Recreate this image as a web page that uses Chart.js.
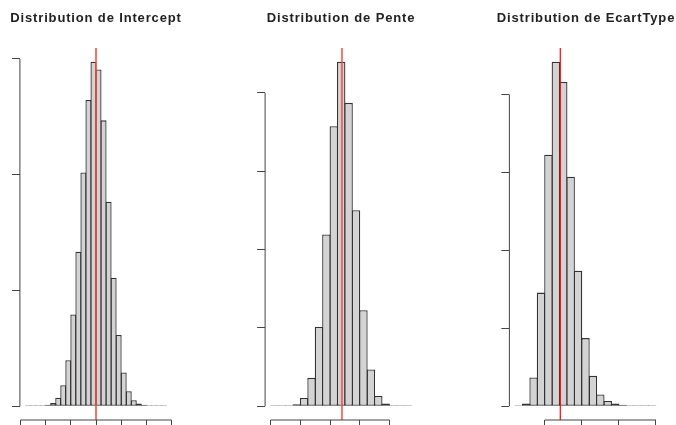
<!DOCTYPE html>
<html>
<head>
<meta charset="utf-8">
<script src="https://cdn.jsdelivr.net/npm/chart.js@4"></script>
<style>
html, body { margin: 0; padding: 0; background: #ffffff; }
#wrap { position: relative; width: 676px; height: 425px; overflow: hidden; background: #ffffff; }
#wrap canvas { position: absolute; top: 0; }
</style>
</head>
<body>
<div id="wrap">
  <canvas id="c1" width="200" height="440"></canvas>
  <canvas id="c2" width="200" height="440"></canvas>
  <canvas id="c3" width="200" height="440"></canvas>
</div>
<script>
// ---------- data ----------
const titles = ['Distribution de Intercept', 'Distribution de Pente', 'Distribution de EcartType'];

// bin centres (histogram categories)
const interceptBins = [-2.7, -2.5, -2.3, -2.1, -1.9, -1.7, -1.5, -1.3, -1.1, -0.9, -0.7, -0.5, -0.3, -0.1,
                       0.1, 0.3, 0.5, 0.7, 0.9, 1.1, 1.3, 1.5, 1.7, 1.9, 2.1, 2.3, 2.5, 2.7];
const interceptCounts = [1, 1, 1, 3, 6, 14, 37, 91, 199, 396, 667, 1010, 1323, 1488,
                         1455, 1235, 883, 555, 308, 146, 65, 26, 12, 6, 3, 1, 1, 1];

const penteBins = [0.225, 0.275, 0.325, 0.375, 0.425, 0.475, 0.525, 0.575, 0.625, 0.675,
                   0.725, 0.775, 0.825, 0.875, 0.925, 0.975, 1.025, 1.075, 1.125];
const penteCounts = [1, 1, 6, 13, 53, 181, 506, 1096, 1787, 2198,
                     1936, 1251, 613, 234, 66, 17, 4, 1, 1];

const ecartTypeBins = [0.15, 0.25, 0.35, 0.45, 0.55, 0.65, 0.75, 0.85, 0.95, 1.05,
                       1.15, 1.25, 1.35, 1.45, 1.55, 1.65, 1.75, 1.85, 1.95];
const ecartTypeCounts = [4, 17, 184, 729, 1614, 2210, 2081, 1472, 870, 437,
                         195, 75, 34, 17, 9, 4, 3, 2, 2];

const binWidths = [0.2, 0.05, 0.1];
const trueValues = [0, 0.68, 0.71];        // red reference lines

// tick values (labels are outside the visible frame)
const interceptXTicks = [-3, -2, -1, 0, 1, 2, 3];
const penteXTicks = [0.2, 0.4, 0.6, 0.8, 1.0];
const ecartTypeXTicks = [0.5, 1.0, 1.5, 2.0];
const interceptYTicks = [0, 500, 1000, 1500];
const penteYTicks = [0, 500, 1000, 1500, 2000];
const ecartTypeYTicks = [0, 500, 1000, 1500, 2000];

// ---------- layout / styles ----------
const plotLefts = [19.9, 265.1, 509.4];
const plotWidth = 152.2;
const plotBottom = 420;
const canvasW = 200, canvasH = 440, tickLen = 8;
const barOverlap = [1.2, 1.135, 1.135];
const refLineColors = ['rgba(245,70,70,0.75)', 'rgba(245,70,70,0.75)', '#ff0000'];
const refLineWidths = [2, 2, 1.2];

const binsList = [interceptBins, penteBins, ecartTypeBins];
const countsList = [interceptCounts, penteCounts, ecartTypeCounts];
const xTicksList = [interceptXTicks, penteXTicks, ecartTypeXTicks];
const yTicksList = [interceptYTicks, penteYTicks, ecartTypeYTicks];

// R-style axis lines: from first tick to last tick only; letter-spaced titles
const rAxisLines = {
  id: 'rAxisLines',
  beforeDraw(chart, args, opts) {
    chart.ctx.letterSpacing = opts.titleSpacing;
  },
  afterDraw(chart, args, opts) {
    const ctx = chart.ctx;
    ctx.letterSpacing = '0px';
    const xs = chart.scales.x, ys = chart.scales.y;
    ctx.save();
    ctx.strokeStyle = opts.color;
    ctx.lineWidth = opts.width;
    ctx.beginPath();
    const y0 = xs.top;
    ctx.moveTo(xs.getPixelForTick(0), y0);
    ctx.lineTo(xs.getPixelForTick(xs.ticks.length - 1), y0);
    const x0 = ys.right;
    ctx.moveTo(x0, ys.getPixelForTick(0));
    ctx.lineTo(x0, ys.getPixelForTick(ys.ticks.length - 1));
    ctx.stroke();
    ctx.restore();
  }
};

function makeChart(i) {
  const bins = binsList[i], counts = countsList[i], bw = binWidths[i];
  const lo = bins[0] - bw / 2, hi = bins[bins.length - 1] + bw / 2;
  const xr = hi - lo;
  const cmax = Math.max(...counts);
  const xmin = lo - 0.04 * xr, xmax = hi + 0.04 * xr;
  const ymin = -0.04 * cmax, ymax = 1.04 * cmax;

  // canvas centred on the plot region so the title is centred over it
  const plotCenter = plotLefts[i] + plotWidth / 2;
  const canvasLeft = Math.round(plotCenter - canvasW / 2);
  const leftSide = plotLefts[i] - canvasLeft;
  const rightSide = canvasLeft + canvasW - (plotLefts[i] + plotWidth);
  const cv = document.getElementById('c' + (i + 1));
  cv.style.left = canvasLeft + 'px';

  new Chart(cv, {
    type: 'bar',
    data: {
      datasets: [
        {
          type: 'line',
          data: [{x: trueValues[i], y: ymin}, {x: trueValues[i], y: ymax}],
          borderColor: refLineColors[i],
          borderWidth: refLineWidths[i],
          pointRadius: 0,
          order: 0
        },
        {
          type: 'bar',
          data: bins.map((b, j) => ({x: b, y: counts[j]})),
          backgroundColor: '#d3d3d3',
          borderColor: '#333333',
          borderWidth: 1.3,
          borderSkipped: false,
          barPercentage: barOverlap[i],
          categoryPercentage: 1,
          minBarLength: 1,
          order: 1
        }
      ]
    },
    options: {
      responsive: false,
      animation: false,
      devicePixelRatio: 1,
      layout: {
        padding: {left: 0, right: 0, top: 0, bottom: canvasH - tickLen - plotBottom}
      },
      plugins: {
        legend: {display: false},
        tooltip: {enabled: false},
        title: {
          display: true,
          text: titles[i],
          fullSize: true,
          color: '#222222',
          font: {family: "'Liberation Sans', Arial, sans-serif", size: 13, weight: 'bold'},
          padding: {top: 11, bottom: 21.4}
        },
        rAxisLines: {color: '#444444', width: 1, titleSpacing: '0.85px'}
      },
      scales: {
        x: {
          type: 'linear',
          position: 'bottom',
          min: xmin,
          max: xmax,
          offset: false,
          afterBuildTicks: (s) => { s.ticks = xTicksList[i].map(v => ({value: v})); },
          ticks: {display: false},
          grid: {display: true, drawOnChartArea: false, drawTicks: true, tickLength: tickLen, color: '#444444', offset: false},
          border: {display: false}
        },
        y: {
          type: 'linear',
          position: 'left',
          min: ymin,
          max: ymax,
          afterBuildTicks: (s) => { s.ticks = yTicksList[i].map(v => ({value: v})); },
          afterFit: (s) => { s.width = leftSide; },
          ticks: {display: false},
          grid: {display: true, drawOnChartArea: false, drawTicks: true, tickLength: tickLen, color: '#444444'},
          border: {display: false}
        },
        yRight: {
          type: 'linear',
          position: 'right',
          display: true,
          afterFit: (s) => { s.width = rightSide; },
          ticks: {display: false},
          grid: {display: false},
          border: {display: false}
        }
      }
    },
    plugins: [rAxisLines]
  });
}

for (let i = 0; i < 3; i++) makeChart(i);
</script>
</body>
</html>
